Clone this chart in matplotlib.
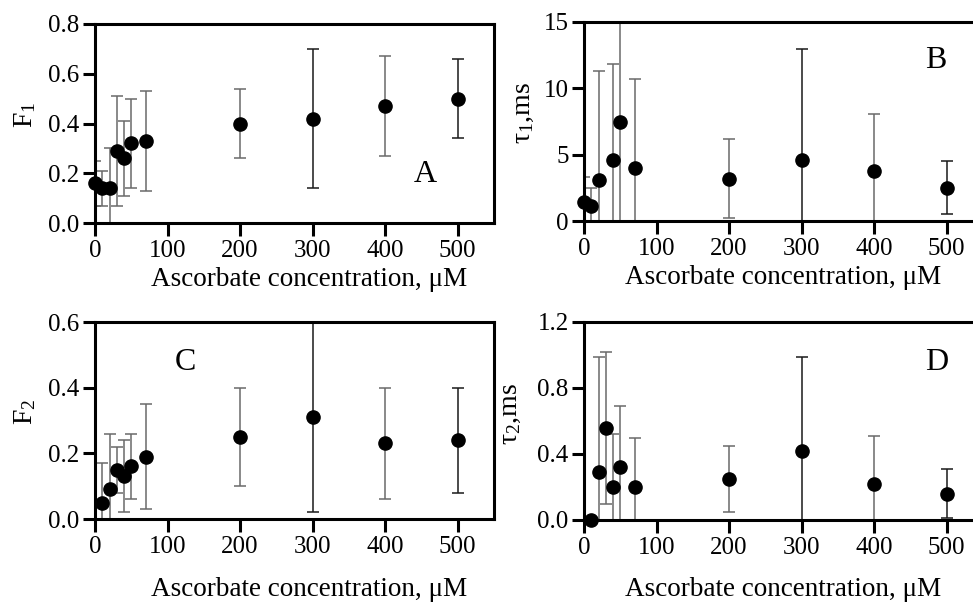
import matplotlib
matplotlib.use("Agg")
import matplotlib.pyplot as plt
import numpy as np

plt.rcParams['font.family'] = ['Liberation Serif', 'DejaVu Serif']
plt.rcParams['mathtext.fontset'] = 'custom'
plt.rcParams['mathtext.rm'] = 'Liberation Serif'
plt.rcParams['mathtext.it'] = 'Liberation Serif'

# ---- data ----
xA = [0, 10, 20, 30, 40, 50, 70, 200, 300, 400, 500]
F1 = [0.16, 0.14, 0.14, 0.29, 0.26, 0.32, 0.33, 0.40, 0.42, 0.47, 0.50]
F1_err = [0.09, 0.07, 0.16, 0.22, 0.15, 0.18, 0.20, 0.14, 0.28, 0.20, 0.16]

xB = [0, 10, 20, 40, 50, 70, 200, 300, 400, 500]
tau1 = [1.4, 1.1, 3.1, 4.6, 7.5, 4.0, 3.2, 4.6, 3.8, 2.5]
tau1_err = [1.95, 1.4, 8.2, 7.2, 9.0, 6.7, 3.0, 8.4, 4.3, 2.0]

xC = [10, 20, 30, 40, 50, 70, 200, 300, 400, 500]
F2 = [0.05, 0.09, 0.15, 0.13, 0.16, 0.19, 0.25, 0.31, 0.23, 0.24]
F2_err = [0.12, 0.17, 0.07, 0.11, 0.10, 0.16, 0.15, 0.29, 0.17, 0.16]

xD = [10, 20, 30, 40, 50, 70, 200, 300, 400, 500]
tau2 = [0.0, 0.29, 0.56, 0.20, 0.32, 0.20, 0.25, 0.42, 0.22, 0.16]
tau2_err = [0.0, 0.70, 0.46, 0.32, 0.37, 0.30, 0.20, 0.57, 0.29, 0.15]

x_ticks = [0, 100, 200, 300, 400, 500]
xlabel = "Ascorbate concentration, \u03bcM"

panels = [
    dict(x=xA, y=F1, e=F1_err, ylim=(0, 0.8), yticks=[0.0, 0.2, 0.4, 0.6, 0.8], fmt="{:.1f}",
         ylabel=r"F$_1$", letter="A", lpos=(425, 175), pos=(95, 24, 399, 199),
         ylab=(38, 115), xlab=(309, 279)),
    dict(x=xB, y=tau1, e=tau1_err, ylim=(0, 15), yticks=[0, 5, 10, 15], fmt="{:.0f}",
         ylabel=r"$\tau_1$,ms", letter="B", lpos=(936, 61), pos=(584, 22, 399, 199),
         ylab=(536, 113), xlab=(783, 277)),
    dict(x=xC, y=F2, e=F2_err, ylim=(0, 0.6), yticks=[0.0, 0.2, 0.4, 0.6], fmt="{:.1f}",
         ylabel=r"F$_2$", letter="C", lpos=(185, 362), pos=(95, 322, 399, 197),
         ylab=(38, 412), xlab=(309, 589)),
    dict(x=xD, y=tau2, e=tau2_err, ylim=(0, 1.2), yticks=[0.0, 0.4, 0.8, 1.2], fmt="{:.1f}",
         ylabel=r"$\tau_2$,ms", letter="D", lpos=(937, 362), pos=(584, 322, 399, 198),
         ylab=(523, 414), xlab=(783, 589)),
]

W, H = 973, 602
fig = plt.figure(figsize=(W / 100, H / 100), dpi=100)

for p in panels:
    l, t, w, h = p["pos"]
    ax = fig.add_axes([l / W, (H - t - h) / H, w / W, h / H])
    x = np.array(p["x"], float)
    y = np.array(p["y"], float)
    e = np.array(p["e"], float)
    dark = np.isin(x, [300, 500])
    for mask, col in [(~dark, "#6a6a6a"), (dark, "#1a1a1a")]:
        sel = mask & (e > 0)
        ax.errorbar(x[sel], y[sel], yerr=e[sel], fmt="none", ecolor=col,
                    elinewidth=1.1, capsize=4.5, capthick=1.1, zorder=2)
    ax.plot(x, y, "o", color="black", markersize=9.5, clip_on=False, zorder=4)
    ax.set_xlim(0, 550)
    ax.set_ylim(*p["ylim"])
    ax.set_xticks(x_ticks)
    ax.set_xticklabels([str(v) for v in x_ticks])
    ax.set_yticks(p["yticks"])
    ax.set_yticklabels([p["fmt"].format(v) for v in p["yticks"]])
    for s in ax.spines.values():
        s.set_linewidth(2.2)
    ax.tick_params(axis="both", direction="out", length=9, width=2.2, labelsize=18, pad=2)
    ax.tick_params(axis="x", pad=3)
    ax.set_xlabel(xlabel, fontsize=19.5)
    ax.set_ylabel(p["ylabel"], fontsize=20)
    lx, ly = p["ylab"]
    ax.yaxis.set_label_coords((lx - l) / w, (t + h - ly) / h)
    xx, xy = p["xlab"]
    ax.xaxis.set_label_coords((xx - l) / w, (t + h - xy) / h)
    ax.xaxis.label.set_va("center")
    ax.text((p["lpos"][0] - l) / w, (t + h - p["lpos"][1]) / h, p["letter"],
            transform=ax.transAxes, fontsize=23, ha="center", va="center")

fig.savefig("out.png", dpi=100)
